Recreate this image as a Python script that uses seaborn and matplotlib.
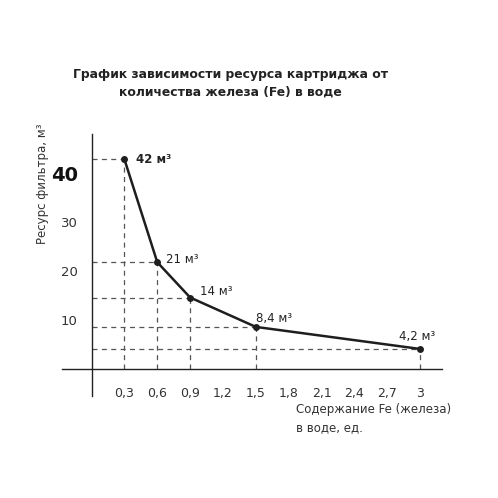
import pandas as pd
import matplotlib.pyplot as plt
import seaborn as sns

# Data
fe = [0.3, 0.6, 0.9, 1.5, 3.0]
resource = [42.8, 21.8, 14.6, 8.6, 4.1]
labels = ["42 м³", "21 м³", "14 м³", "8,4 м³", "4,2 м³"]
x_ticks = [0.3, 0.6, 0.9, 1.2, 1.5, 1.8, 2.1, 2.4, 2.7, 3.0]
x_tick_labels = ["0,3", "0,6", "0,9", "1,2", "1,5", "1,8", "2,1", "2,4", "2,7", "3"]
y_ticks = [10, 20, 30, 40]

df = pd.DataFrame({"fe": fe, "resource": resource})

sns.set_style("white")
plt.rcParams["font.family"] = ["DejaVu Sans"]

fig = plt.figure(figsize=(4.98, 4.98), dpi=100)
ax = fig.add_axes([0.1245, 0.2048, 0.763, 0.5265])

# Guide lines
for x, y in zip(fe, resource):
    ax.plot([0, x], [y, y], color="#555555", lw=0.9, ls=(0, (4, 3.5)), zorder=1)
    ax.plot([x, x], [0, y], color="#555555", lw=0.9, ls=(0, (4, 3.5)), zorder=1)

sns.lineplot(data=df, x="fe", y="resource", ax=ax, color="#1e1e1e", lw=1.8,
             marker="o", markersize=5, markeredgewidth=0, zorder=3)

# Point labels
offsets = [(8, 0, "left"), (6, 2, "left"), (7, 4, "left"),
           (0, 6, "left"), (-2, 9, "center")]
for i, (x, y) in enumerate(zip(fe, resource)):
    dx, dy, ha = offsets[i]
    ax.annotate(labels[i], (x, y), xytext=(dx, dy), textcoords="offset points",
                ha=ha, va="center", fontsize=8.5, color="#222222",
                fontweight="bold" if i == 0 else "normal")

ax.set_xlim(-0.27, 3.2)
ax.set_ylim(-5.5, 48)
for s in ["top", "right"]:
    ax.spines[s].set_visible(False)
for s in ["left", "bottom"]:
    ax.spines[s].set_position(("data", 0))
    ax.spines[s].set_color("#222222")
    ax.spines[s].set_linewidth(1.0)

ax.set_xticks(x_ticks)
ax.set_xticklabels(x_tick_labels)
ax.set_yticks(y_ticks)
ax.tick_params(axis="x", direction="inout", length=6, width=0.9, pad=10,
               labelsize=9, colors="#333333")
ax.tick_params(axis="y", direction="out", length=4, width=0.9, pad=6,
               labelsize=9.5, colors="#333333")
for lbl in ax.get_yticklabels():
    if lbl.get_text() == "40":
        lbl.set_fontsize(14)
        lbl.set_fontweight("bold")
        lbl.set_color("#111111")
ax.set_xlabel("")
ax.set_ylabel("")

fig.text(0.085, 0.632, "Ресурс фильтра, м³", rotation=90, ha="center", va="center",
         fontsize=8.5, color="#333333")
fig.text(0.594, 0.19, "Содержание Fe (железа)\nв воде, ед.", ha="left", va="top",
         fontsize=8.5, color="#333333", linespacing=1.5)
fig.text(0.462, 0.832, "График зависимости ресурса картриджа от\nколичества железа (Fe) в воде",
         ha="center", va="center", fontsize=8.9, fontweight="bold", color="#222222",
         linespacing=1.45)

fig.savefig("out.png", dpi=100)
